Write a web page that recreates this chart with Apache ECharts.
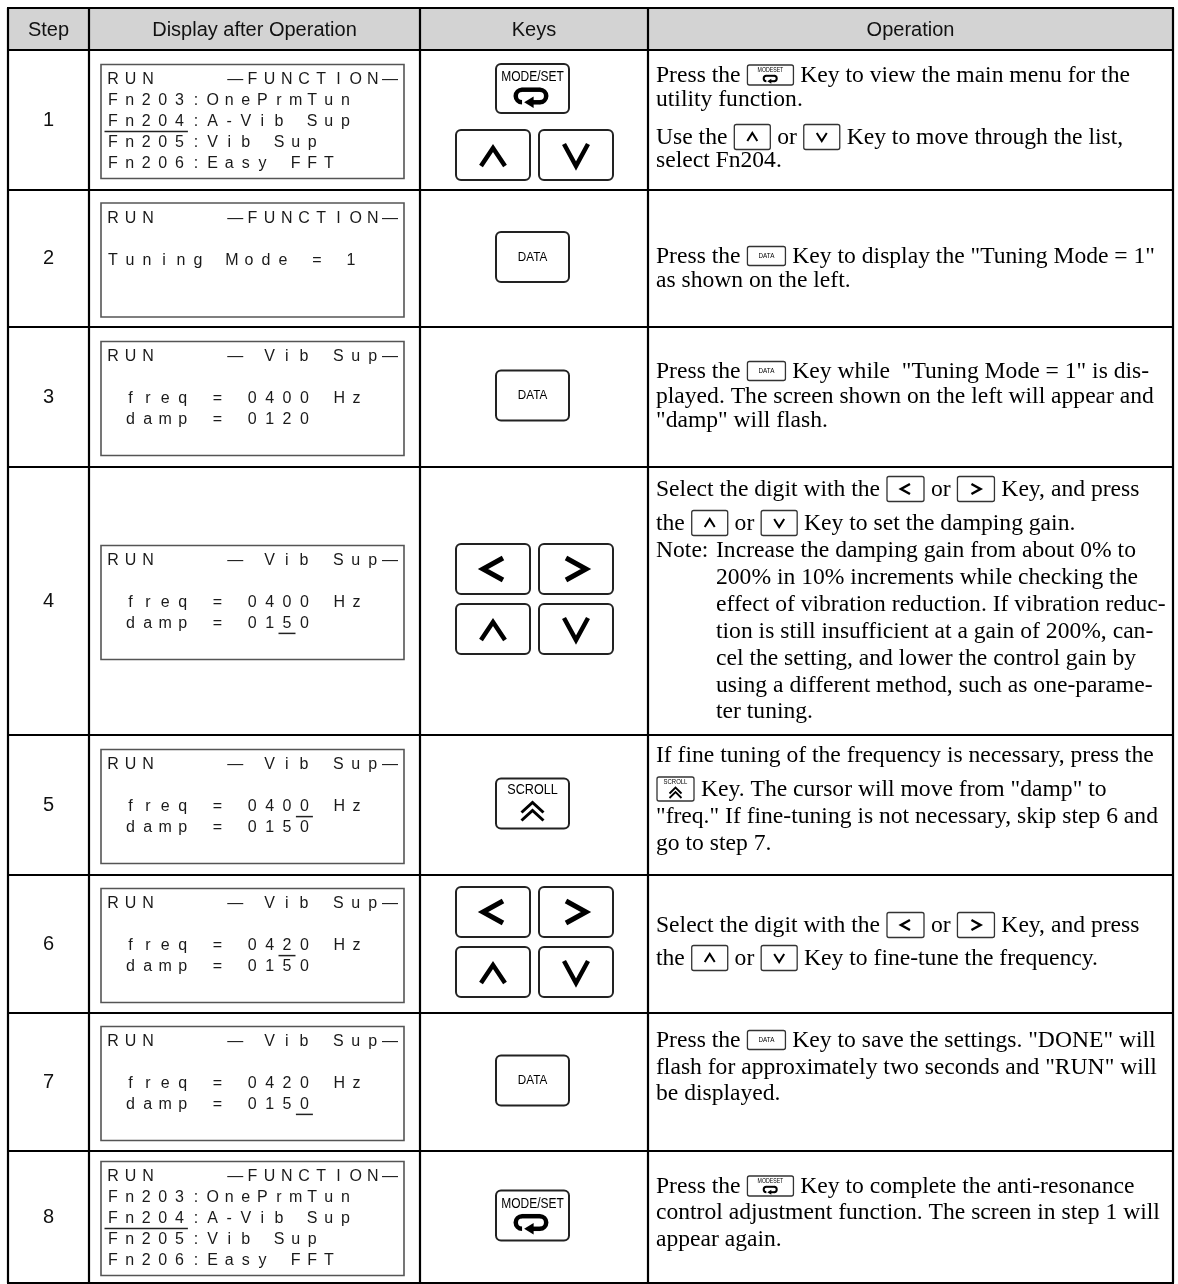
<!DOCTYPE html>
<html><head><meta charset="utf-8">
<script src="https://cdn.jsdelivr.net/npm/echarts@6/dist/echarts.min.js"></script>
<style>html,body{margin:0;padding:0;background:#fff}#c{width:1178px;height:1284px}</style>
</head><body><div id="c"></div>
<script>
// ---------------- DATA ----------------
const headers = ['Step', 'Display after Operation', 'Keys', 'Operation'];
const steps = ['1', '2', '3', '4', '5', '6', '7', '8'];
const displayTitles = ['—FUNCTION—', '—FUNCTION—', '— Vib Sup—', '— Vib Sup—', '— Vib Sup—', '— Vib Sup—', '— Vib Sup—', '—FUNCTION—'];
const menuLines = ['Fn203:OnePrmTun', 'Fn204:A-Vib Sup', 'Fn205:Vib Sup', 'Fn206:Easy FFT'];
const displayBody = [
  menuLines,
  ['', 'Tuning Mode = 1'],
  ['', ' freq = 0400 Hz', ' damp = 0120'],
  ['', ' freq = 0400 Hz', ' damp = 0150'],
  ['', ' freq = 0400 Hz', ' damp = 0150'],
  ['', ' freq = 0420 Hz', ' damp = 0150'],
  ['', ' freq = 0420 Hz', ' damp = 0150'],
  menuLines
];
// cursor underline: [display line, first column, last column]
const cursorMarks = [[2, 0, 4], null, null, [3, 10, 10], [2, 11, 11], [2, 10, 10], [3, 11, 11], [2, 0, 4]];
const stepKeys = [
  ['MODESET', 'UP', 'DOWN'], ['DATA'], ['DATA'], ['LEFT', 'RIGHT', 'UP', 'DOWN'],
  ['SCROLL'], ['LEFT', 'RIGHT', 'UP', 'DOWN'], ['DATA'], ['MODESET']
];
const opLines = [
  ['Press the {M} Key to view the main menu for the', 'utility function.', 'Use the {U} or {V} Key to move through the list,', 'select Fn204.'],
  ['Press the {D} Key to display the "Tuning Mode = 1"', 'as shown on the left.'],
  ['Press the {D} Key while  "Tuning Mode = 1" is dis-', 'played. The screen shown on the left will appear and', '"damp" will flash.'],
  ['Select the digit with the {L} or {R} Key, and press', 'the {U} or {V} Key to set the damping gain.',
   'Note:\tIncrease the damping gain from about 0% to', '\t200% in 10% increments while checking the',
   '\teffect of vibration reduction. If vibration reduc-', '\ttion is still insufficient at a gain of 200%, can-',
   '\tcel the setting, and lower the control gain by', '\tusing a different method, such as one-parame-', '\tter tuning.'],
  ['If fine tuning of the frequency is necessary, press the', '{S} Key. The cursor will move from "damp" to',
   '"freq." If fine-tuning is not necessary, skip step 6 and', 'go to step 7.'],
  ['Select the digit with the {L} or {R} Key, and press', 'the {U} or {V} Key to fine-tune the frequency.'],
  ['Press the {D} Key to save the settings. "DONE" will', 'flash for approximately two seconds and "RUN" will', 'be displayed.'],
  ['Press the {M} Key to complete the anti-resonance', 'control adjustment function. The screen in step 1 will', 'appear again.']
];

// ---------------- LAYOUT ----------------
const colX = [8, 89, 420, 648, 1173];
const rowY = [8, 50, 190, 327, 467, 735, 875, 1013, 1151, 1283];
const opLineY = [
  [76, 100, 138, 161], [257, 281], [372, 397, 421],
  [490, 524, 551, 578, 605, 632, 659, 686, 712],
  [756, 790, 817, 844], [926, 959], [1041, 1068, 1094], [1187, 1213, 1240]
];
const SANS = '"Liberation Sans", Arial, sans-serif';
const SERIF = '"Liberation Serif", "Times New Roman", serif';
const INK = '#000';

const els = [];
const ctx = document.createElement('canvas').getContext('2d');
function measure(t, font) { ctx.font = font; return ctx.measureText(t).width; }

function T(x, y, text, font, align, fill, extra) {
  align = align || 'left';
  return Object.assign({
    type: 'text', x: x, y: y, silent: true, z: 10,
    style: { text: text, font: font, fill: fill || INK, align: align, verticalAlign: 'middle', textAlign: align, textVerticalAlign: 'middle' }
  }, extra || {});
}
function L(x1, y1, x2, y2, w, c, z) {
  return { type: 'line', silent: true, z: z || 5, shape: { x1: x1, y1: y1, x2: x2, y2: y2 }, style: { stroke: c || '#000', lineWidth: w } };
}
function R(x, y, w, h, opt) {
  return { type: 'rect', silent: true, z: opt.z || 3, shape: { x: x, y: y, width: w, height: h, r: opt.r || 0 },
    style: { fill: opt.fill || 'none', stroke: opt.stroke || null, lineWidth: opt.lw || 0 } };
}
function PL(pts, w, c, z) {
  return { type: 'polyline', silent: true, z: z || 8, shape: { points: pts }, style: { stroke: c || INK, lineWidth: w, fill: 'none', lineJoin: 'miter', lineCap: 'butt' } };
}
function ARC(cx, cy, r, a0, a1, lw) {
  return { type: 'arc', silent: true, z: 8, shape: { cx: cx, cy: cy, r: r, startAngle: a0, endAngle: a1, clockwise: true }, style: { stroke: INK, lineWidth: lw, fill: 'none' } };
}
function loopIcon(cx, cy, s, lw) {
  const r = 6 * s, xl = cx - 9 * s, xr = cx + 8 * s;
  return [
    ARC(xl, cy, r, Math.PI / 2, Math.PI * 1.5, lw),
    ARC(xr, cy, r, -Math.PI / 2, Math.PI / 2, lw),
    L(xl - 0.3, cy - r, xr + 0.3, cy - r, lw, INK, 8),
    L(xr + 0.3, cy + r, cx + 1 * s, cy + r, lw, INK, 8),
    { type: 'polygon', silent: true, z: 8, shape: { points: [[cx - 7 * s, cy + r], [cx + 2 * s, cy + r - 5.5 * s], [cx + 2 * s, cy + r + 5.5 * s]] }, style: { fill: INK } }
  ];
}
function chevUp(cx, cy, hw, hh, lw) { return PL([[cx - hw, cy + hh], [cx, cy - hh], [cx + hw, cy + hh]], lw); }
function chevDown(cx, cy, hw, hh, lw) { return PL([[cx - hw, cy - hh], [cx, cy + hh], [cx + hw, cy - hh]], lw); }
function chevLeft(cx, cy, hw, hh, lw) { return PL([[cx + hw, cy - hh], [cx - hw, cy], [cx + hw, cy + hh]], lw); }
function chevRight(cx, cy, hw, hh, lw) { return PL([[cx - hw, cy - hh], [cx + hw, cy], [cx - hw, cy + hh]], lw); }

// ---------- big keys ----------
function bigKey(type, x, y, w, h) {
  els.push(R(x, y, w, h, { r: 5, stroke: '#222', lw: 2, fill: '#fff', z: 6 }));
  const cx = x + w / 2, cy = y + h / 2;
  if (type === 'UP') els.push(chevUp(cx, cy + 2, 12, 9, 4.5));
  else if (type === 'DOWN') els.push(chevDown(cx, cy, 12, 11, 4.5));
  else if (type === 'LEFT') els.push(chevLeft(cx, cy, 10, 11, 5));
  else if (type === 'RIGHT') els.push(chevRight(cx, cy, 10, 11, 5));
  else if (type === 'DATA') els.push(T(cx, cy, 'DATA', '13px ' + SANS, 'center', INK, { scaleX: 0.9 }));
  else if (type === 'MODESET') {
    els.push(T(cx, y + 13, 'MODE/SET', '15px ' + SANS, 'center', INK, { scaleX: 0.8 }));
    loopIcon(cx - 1, y + 32, 1.05, 4.5).forEach(e => els.push(e));
  } else if (type === 'SCROLL') {
    els.push(T(cx, y + 12, 'SCROLL', '14px ' + SANS, 'center', INK, { scaleX: 0.9 }));
    els.push(chevUp(cx, y + 29, 11, 5, 3));
    els.push(chevUp(cx, y + 37, 11, 5, 3));
  }
}

// ---------- small inline keys ----------
const smallW = { M: 46, D: 38, S: 37, U: 36, V: 36, L: 37, R: 37 };
const smallH = { M: 20, D: 19, S: 24, U: 25, V: 25, L: 25, R: 25 };
function smallKey(tok, x, cy) {
  const w = smallW[tok], h = smallH[tok];
  const y = cy - h / 2;
  els.push(R(x, y, w, h, { r: 2, stroke: '#333', lw: 1.3, fill: '#fff', z: 6 }));
  const cx = x + w / 2;
  if (tok === 'U') els.push(chevUp(cx, cy, 5, 4, 2));
  else if (tok === 'V') els.push(chevDown(cx, cy, 5, 4, 2));
  else if (tok === 'L') els.push(chevLeft(cx, cy, 4.5, 5, 2.5));
  else if (tok === 'R') els.push(chevRight(cx, cy, 4.5, 5, 2.5));
  else if (tok === 'D') els.push(T(cx, cy, 'DATA', '7px ' + SANS, 'center', INK, { scaleX: 0.9 }));
  else if (tok === 'M') {
    els.push(T(cx, y + 5, 'MODESET', '6.5px ' + SANS, 'center', INK, { scaleX: 0.8 }));
    loopIcon(cx, cy + 3.5, 0.45, 2).forEach(e => els.push(e));
  } else if (tok === 'S') {
    els.push(T(cx, y + 5.5, 'SCROLL', '7px ' + SANS, 'center', INK, { scaleX: 0.85 }));
    els.push(chevUp(cx, y + 13.5, 6, 3, 1.8));
    els.push(chevUp(cx, y + 18, 6, 3, 1.8));
  }
  return w;
}

// ---------------- TABLE FRAME ----------------
els.push(R(colX[0], rowY[0], colX[4] - colX[0], rowY[1] - rowY[0], { fill: '#d3d3d3', z: 1 }));
rowY.forEach(y => els.push(L(colX[0] - 1, y, colX[4] + 1, y, 2.2)));
colX.forEach(x => els.push(L(x, rowY[0], x, rowY[rowY.length - 1], 2.2)));

// headers
headers.forEach((h, i) => els.push(T((colX[i] + colX[i + 1]) / 2, (rowY[0] + rowY[1]) / 2 + 1, h, '20px ' + SANS, 'center', '#111')));

// LCD pitch by line kind
const lcdPitch = ln => /^Fn/.test(ln) ? 16.6 : (/^T/.test(ln) ? 17 : 17.4);

// rows
const OPFONT = '23.6px ' + SERIF;
steps.forEach((s, r) => {
  const top = rowY[r + 1], bot = rowY[r + 2], mid = (top + bot) / 2;
  els.push(T((colX[0] + colX[1]) / 2, mid, s, '20px ' + SANS, 'center', '#111'));

  // ----- LCD display -----
  const bx = 101, bw = 303, bh = 114, by = mid - bh / 2 + 1.5;
  els.push(R(bx, by, bw, bh, { stroke: '#555', lw: 1.6, fill: '#fff', z: 4 }));
  const x0 = bx + 12, ly0 = by + 15.5, lh = 20.8, LFONT = '16px ' + SANS;
  const chars = (str, xs, y) => { for (let i = 0; i < str.length; i++) if (str[i] !== ' ') els.push(T(xs(i), y, str[i], LFONT, 'center', '#1a1a1a')); };
  chars('RUN', i => x0 + i * 17.5, ly0);
  const ttl = displayTitles[r];
  chars(ttl, i => bx + 289 - (ttl.length - 1 - i) * 17.2, ly0);
  displayBody[r].forEach((ln, k) => { const p = lcdPitch(ln); chars(ln, i => x0 + i * p, ly0 + (k + 1) * lh); });
  const cm = cursorMarks[r];
  if (cm) {
    const p = lcdPitch(displayBody[r][cm[0] - 1]);
    const uy = ly0 + cm[0] * lh + 10;
    els.push(L(x0 + cm[1] * p - 8.5, uy, x0 + cm[2] * p + 8.5, uy, 1.5, '#222', 9));
  }

  // ----- keys -----
  const keys = stepKeys[r];
  if (keys.length === 3) {
    bigKey(keys[0], 496, top + 14, 73, 49);
    bigKey(keys[1], 456, top + 80, 74, 50);
    bigKey(keys[2], 539, top + 80, 74, 50);
  } else if (keys.length === 4) {
    const cy = mid - 2;
    bigKey(keys[0], 456, cy - 55, 74, 50);
    bigKey(keys[1], 539, cy - 55, 74, 50);
    bigKey(keys[2], 456, cy + 5, 74, 50);
    bigKey(keys[3], 539, cy + 5, 74, 50);
  } else {
    bigKey(keys[0], 496, mid - 26.5, 73, 50);
  }

  // ----- operation text -----
  opLines[r].forEach((line, k) => {
    const y = opLineY[r][k];
    let x = 656, s = line;
    if (s.indexOf('Note:\t') === 0) { els.push(T(x, y, 'Note:', OPFONT, 'left')); x = 716; s = s.slice(6); }
    else if (s[0] === '\t') { x = 716; s = s.slice(1); }
    const parts = s.split(/\{([A-Z])\}/);
    parts.forEach((p, j) => {
      if (j % 2 === 0) {
        if (p.length) { els.push(T(x, y, p, OPFONT, 'left')); x += measure(p, OPFONT); }
      } else {
        x += 1;
        x += smallKey(p, x, y - 1);
        x += 1;
      }
    });
  });
});

const chart = echarts.init(document.getElementById('c'), null, { renderer: 'canvas', width: 1178, height: 1284 });
chart.setOption({ animation: false, backgroundColor: '#fff', graphic: { elements: els } });
</script>
</body></html>
